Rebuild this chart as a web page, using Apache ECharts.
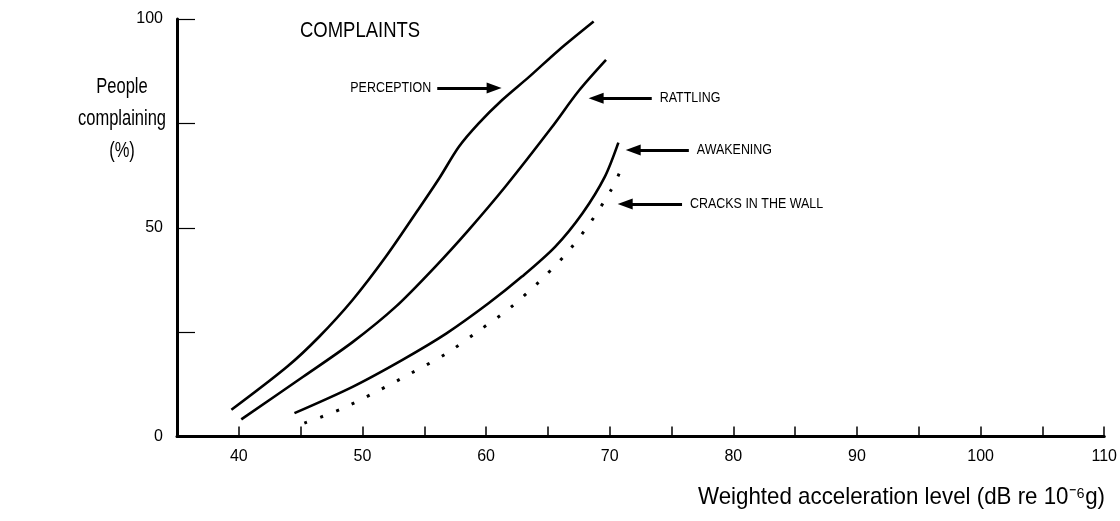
<!DOCTYPE html>
<html>
<head>
<meta charset="utf-8">
<script src="https://cdn.jsdelivr.net/npm/echarts@6/dist/echarts.min.js"></script>
<style>
html,body{margin:0;padding:0;background:#fff;}
#c{width:1120px;height:521px;}
</style>
</head>
<body>
<div id="c"></div>
<script>
// ---- data ----
const perception = [[39.4,6.4],[43.9,16.7],[46.5,23.9],[49.2,32.7],[51.9,43.1],[54.5,54.3],[56.2,61.8],[57.8,69.4],[59.4,75.0],[61.3,80.6],[63.5,86.2],[65.9,92.6],[68.7,99.4]];
const rattling   = [[40.2,4.1],[45.2,14.3],[49.2,22.6],[52.7,31.1],[55.9,40.7],[58.6,49.5],[61.6,60.0],[65.3,74.0],[67.5,82.8],[69.7,90.2]];
const awakening  = [[44.5,5.6],[49.2,11.9],[53.2,18.3],[56.8,24.7],[60.2,31.9],[62.9,38.3],[65.6,45.5],[67.8,53.5],[69.6,62.2],[70.7,70.4]];
const cracks     = [[45.3,3.2],[48.3,6.6],[51.1,10.7],[53.9,15.1],[56.8,19.9],[59.3,25.1],[61.9,30.7],[64.3,37.1],[66.4,43.5],[68.4,51.1],[70.1,59.0],[70.8,63.2]];

const xTickLabels = [40,50,60,70,80,90,100,110];
const yTickLabels = [0,50,100];

// annotation arrows: [label, tailX, headX, y, labelSide]
const arrowPerception = ['PERCEPTION', 56.05, 60.65, 83.5, 'left'];
const arrowRattling   = ['RATTLING', 73.4, 68.9, 81.0, 'right'];
const arrowAwakening  = ['AWAKENING', 76.4, 71.9, 68.6, 'right'];
const arrowCracks     = ['CRACKS IN THE WALL', 75.85, 71.25, 55.7, 'right'];
const arrows = [arrowPerception, arrowRattling, arrowAwakening, arrowCracks];

const FONT = '"Liberation Sans", Arial, sans-serif';

function arrowLine(a) {
  return {
    silent: true,
    animation: false,
    symbol: ['none', 'triangle'],
    symbolSize: [11, 15],
    lineStyle: { color: '#000', width: 3, type: 'solid' },
    itemStyle: { color: '#000' },
    label: { show: false },
    data: [[{ coord: [a[1], a[3]] }, { coord: [a[2], a[3]] }]]
  };
}

const chart = echarts.init(document.getElementById('c'), null, { renderer: 'canvas' });
const lineStyleSolid = { color: '#000', width: 2.6 };
const option = {
  animation: false,
  backgroundColor: '#fff',
  grid: { left: 177, top: 19, width: 930, height: 417.5, containLabel: false },
  xAxis: {
    type: 'value', min: 35, max: 110, interval: 5,
    axisLine: { show: true, lineStyle: { color: '#000', width: 3 } },
    axisTick: { show: true, inside: true, length: 10, lineStyle: { color: '#000', width: 1.5 } },
    splitLine: { show: false },
    axisLabel: {
      color: '#000', fontSize: 16, fontFamily: FONT, margin: 12,
      showMinLabel: false,
      formatter: v => xTickLabels.indexOf(v) >= 0 ? String(v) : ''
    }
  },
  yAxis: {
    type: 'value', min: 0, max: 100, interval: 25,
    axisLine: { show: true, lineStyle: { color: '#000', width: 3 } },
    axisTick: { show: true, inside: true, length: 18, lineStyle: { color: '#000', width: 1.2 } },
    splitLine: { show: false },
    axisLabel: {
      color: '#000', fontSize: 16, fontFamily: FONT, margin: 14,
      formatter: v => yTickLabels.indexOf(v) >= 0 ? String(v) : ''
    }
  },
  series: [
    { type: 'line', data: perception, smooth: 0.3, showSymbol: false, lineStyle: lineStyleSolid, markLine: arrowLine(arrowPerception) },
    { type: 'line', data: rattling, smooth: 0.3, showSymbol: false, lineStyle: lineStyleSolid, markLine: arrowLine(arrowRattling) },
    { type: 'line', data: awakening, smooth: 0.3, showSymbol: false, lineStyle: lineStyleSolid, markLine: arrowLine(arrowAwakening) },
    { type: 'line', data: cracks, smooth: 0.3, showSymbol: false, lineStyle: { color: '#000', width: 3, type: [3, 14], cap: 'butt' }, markLine: arrowLine(arrowCracks) }
  ]
};
chart.setOption(option);

// text annotations (condensed look via horizontal scale)
const graphics = [
  { type: 'text', x: 300, y: 31, scaleX: 0.84, style: { text: 'COMPLAINTS', fill: '#000', font: '22px ' + FONT, textVerticalAlign: 'middle' } },
  { type: 'text', x: 122, y: 71, scaleX: 0.75, style: { text: 'People\ncomplaining\n(%)', fill: '#000', font: '22px ' + FONT, textAlign: 'center', lineHeight: 32 } },
  { type: 'text', x: 1105, y: 497, scaleX: 0.93, style: { text: 'Weighted acceleration level (dB re 10\u207B\u2076g)', fill: '#000', font: '24px ' + FONT, textAlign: 'right', textVerticalAlign: 'middle' } }
];
arrows.forEach(a => {
  const tail = chart.convertToPixel({ gridIndex: 0 }, [a[1], a[3]]);
  const left = a[4] === 'left';
  graphics.push({
    type: 'text', x: tail[0] + (left ? -6 : 8), y: tail[1], scaleX: 0.83,
    style: { text: a[0], fill: '#000', font: '15px ' + FONT, textAlign: left ? 'right' : 'left', textVerticalAlign: 'middle' }
  });
});
chart.setOption({ graphic: graphics });
</script>
</body>
</html>
